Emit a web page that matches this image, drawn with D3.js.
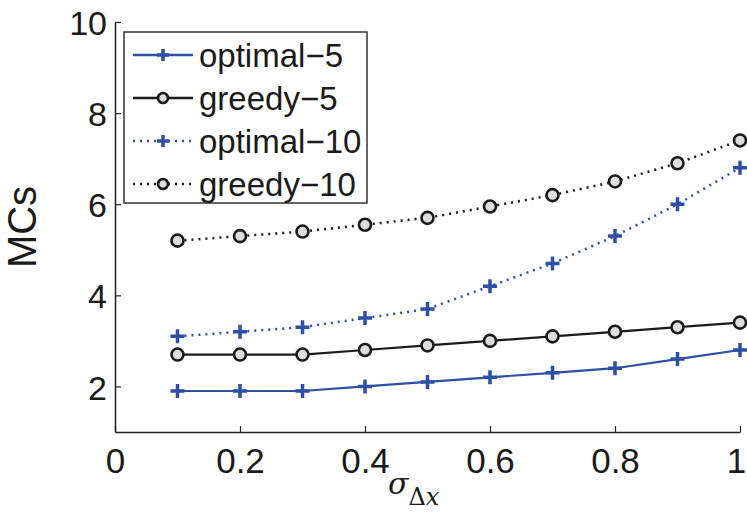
<!DOCTYPE html>
<html>
<head>
<meta charset="utf-8">
<script src="https://cdn.jsdelivr.net/npm/d3@7"></script>
<style>
  body { margin: 0; background: #fff; }
  svg text { font-family: "Liberation Sans", Arial, sans-serif; fill: #1a1a1a; }
</style>
</head>
<body>
<div id="chart"></div>
<script>
'use strict';

// data
const sigma = [0.1, 0.2, 0.3, 0.4, 0.5, 0.6, 0.7, 0.8, 0.9, 1.0];
const optimal5 = [1.9, 1.9, 1.9, 2.0, 2.1, 2.2, 2.3, 2.4, 2.6, 2.8];
const greedy5 = [2.7, 2.7, 2.7, 2.8, 2.9, 3.0, 3.1, 3.2, 3.3, 3.4];
const optimal10 = [3.1, 3.2, 3.3, 3.5, 3.7, 4.2, 4.7, 5.3, 6.0, 6.8];
const greedy10 = [5.2, 5.3, 5.4, 5.55, 5.7, 5.95, 6.2, 6.5, 6.9, 7.4];
const xTicks = [0, 0.2, 0.4, 0.6, 0.8, 1];
const yTicks = [2, 4, 6, 8, 10];

const blue = '#2f4fa6';
const black = '#1a1a1a';

const series = [
    { name: 'optimal\u22125', values: optimal5, color: blue, dash: null, marker: 'plus' },
    { name: 'greedy\u22125', values: greedy5, color: black, dash: null, marker: 'circle' },
    { name: 'optimal\u221210', values: optimal10, color: blue, dash: '2,5', marker: 'plus' },
    { name: 'greedy\u221210', values: greedy10, color: black, dash: '2,5', marker: 'circle' }
];

const W = 747, H = 512;
const margin = { left: 115, right: 7, top: 22, bottom: 80 };
const width = W - margin.left - margin.right;
const height = H - margin.top - margin.bottom;

const x = d3.scaleLinear().domain([0, 1]).range([0, width]);
const y = d3.scaleLinear().domain([1, 10]).range([height, 0]);

let svg = d3.select('#chart').append('svg')
    .attr('width', W)
    .attr('height', H);

let g = svg.append('g')
    .attr('transform', `translate(${margin.left}, ${margin.top})`);

// axes, MATLAB style with inward ticks
let xAxis = g.append('g')
    .attr('transform', `translate(0, ${height})`)
    .call(d3.axisBottom(x).tickValues(xTicks).tickSizeInner(-6).tickSizeOuter(0)
        .tickFormat(d => d === 0 || d === 1 ? d3.format('d')(d) : d3.format('.1f')(d)));
xAxis.selectAll('text')
    .attr('dy', null)
    .attr('y', 41)
    .attr('dx', d => d === 1 ? -4 : 0)   // keep the last label inside the page
    .style('font-size', '35px');

let yAxis = g.append('g')
    .call(d3.axisLeft(y).tickValues(yTicks).tickSizeInner(-6).tickSizeOuter(0));
yAxis.selectAll('text').attr('x', -8).attr('dy', '0.37em').style('font-size', '34px');

[xAxis, yAxis].forEach(a => {
    a.select('.domain').attr('stroke', '#222').attr('stroke-width', 1.5);
    a.selectAll('.tick line').attr('stroke', '#222').attr('stroke-width', 1.2);
});

// axis labels
g.append('text')
    .attr('transform', `translate(-79, ${height / 2}) rotate(-90)`)
    .attr('text-anchor', 'middle')
    .style('font-size', '40px')
    .text('MCs');

let xl = svg.append('text')
    .attr('x', 388)
    .attr('y', 494)
    .style('font-family', '"DejaVu Serif", "Liberation Serif", serif')
    .style('font-style', 'italic')
    .style('font-size', '30px');
xl.append('tspan').text('\u03c3');
xl.append('tspan').attr('dy', 11).style('font-size', '24px').style('font-style', 'normal').text('\u0394');
xl.append('tspan').style('font-size', '24px').text('x');

// markers
function drawMarker(sel, s, size) {
    if (s.marker === 'plus') {
        sel.append('path')
            .attr('d', `M${-size},0H${size}M0,${-size}V${size}`)
            .attr('stroke', s.color)
            .attr('stroke-width', 3.5)
            .attr('fill', 'none');
    } else {
        sel.append('circle')
            .attr('r', size - 1)
            .attr('stroke', s.color)
            .attr('stroke-width', 2.6)
            .attr('fill', '#ddd');
    }
}

let line = d3.line().x((d, i) => x(sigma[i])).y(d => y(d));

series.forEach(s => {
    g.append('path')
        .datum(s.values)
        .attr('d', line)
        .attr('fill', 'none')
        .attr('stroke', s.color)
        .attr('stroke-width', s.dash ? 2.5 : 2.2)
        .attr('stroke-dasharray', s.dash);

    g.append('g').selectAll('g')
        .data(s.values)
        .join('g')
        .attr('transform', (d, i) => `translate(${x(sigma[i])}, ${y(d)})`)
        .each(function() { drawMarker(d3.select(this), s, 7); });
});

// legend
let legend = svg.append('g').attr('transform', 'translate(124, 32)');
legend.append('rect')
    .attr('width', 243)
    .attr('height', 171)
    .attr('fill', '#fff')
    .attr('stroke', '#333')
    .attr('stroke-width', 1.5);

series.forEach((s, i) => {
    let row = legend.append('g').attr('transform', `translate(0, ${23 + i * 43})`);
    row.append('line')
        .attr('x1', 9).attr('x2', 69)
        .attr('stroke', s.color)
        .attr('stroke-width', 2.5)
        .attr('stroke-dasharray', s.dash);
    let m = row.append('g').attr('transform', 'translate(39, 0)');
    drawMarker(m, s, 6);
    row.append('text')
        .attr('x', 75)
        .attr('dy', '0.36em')
        .style('font-size', '33px')
        .text(s.name);
});
</script>
</body>
</html>
